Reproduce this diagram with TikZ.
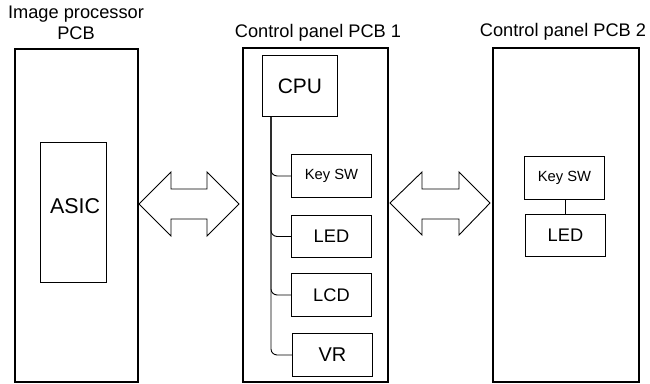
\documentclass[tikz,border=0pt]{standalone}
\usepackage{fontspec}
\setmainfont{Liberation Sans}
\begin{document}
\begin{tikzpicture}[x=1bp,y=-1bp,
  board/.style={draw,line width=2bp,anchor=north west,inner sep=0},
  part/.style={draw,line width=0.9bp,anchor=north west,inner sep=0},
  ttl/.style={anchor=base,inner sep=0,font=\fontsize{18.3}{22}\selectfont},
  wire/.style={line width=0.9bp,rounded corners=6bp},
  bus/.style={draw,line width=0.9bp,fill=white,line join=miter}]
\useasboundingbox (0,0) rectangle (650,383);
% boards
\node[board,minimum width=123bp,minimum height=333bp] (ip) at (14,48) {};
\node[board,minimum width=145bp,minimum height=334bp] (cp1) at (242,47) {};
\node[board,minimum width=146bp,minimum height=334bp] (cp2) at (492,47) {};
% titles
\node[ttl] (t1a) at (76,18) {Image processor};
\node[ttl] (t1b) at (76,39.5) {PCB};
\node[ttl] (t2) at (318,37) {Control panel PCB 1};
\node[ttl] (t3) at (563,36) {Control panel PCB 2};
% ASIC
\node[part,minimum width=66bp,minimum height=140bp] (asic) at (40,142) {};
\node[anchor=base,inner sep=0,font=\fontsize{21.5}{25}\selectfont] (asict) at (75,213) {ASIC};
% CPU board 1 parts
\node[part,minimum width=75bp,minimum height=61bp,font=\fontsize{21}{25}\selectfont] (cpu) at (262,55) {CPU};
\node[part,minimum width=80bp,minimum height=43bp,font=\fontsize{14.8}{17}\selectfont] (key1) at (291,154) {Key SW};
\node[part,minimum width=80bp,minimum height=42bp,font=\fontsize{18.3}{21}\selectfont] (led1) at (291,215) {LED};
\node[part,minimum width=80bp,minimum height=43bp,font=\fontsize{18.3}{21}\selectfont] (lcd1) at (291,273) {LCD};
\node[part,minimum width=80bp,minimum height=43bp,font=\fontsize{20}{23}\selectfont] (vr1) at (292,333) {VR};
\coordinate (tap) at ([xshift=9bp]cpu.south west);
\foreach \b in {key1,led1,lcd1,vr1} \draw[wire] (tap) |- (\b.west);
% board 2 parts
\node[part,minimum width=80bp,minimum height=43bp,font=\fontsize{14.8}{17}\selectfont] (key2) at (524,156) {Key SW};
\node[part,minimum width=80bp,minimum height=42bp,font=\fontsize{18.3}{21}\selectfont] (led2) at (525,214) {LED};
\draw[line width=0.9bp] (key2.south -| led2.north) -- (led2.north);
% bus arrows
\draw[bus] (139,204) -- (171,172) -- (171,189) -- (207,189) -- (207,172) -- (239,204)
  -- (207,236) -- (207,219) -- (171,219) -- (171,236) -- cycle;
\draw[bus] (390,203) -- (422,172) -- (422,189) -- (459,189) -- (459,172) -- (490,203)
  -- (459,235) -- (459,219) -- (422,219) -- (422,235) -- cycle;
\end{tikzpicture}
\end{document}
